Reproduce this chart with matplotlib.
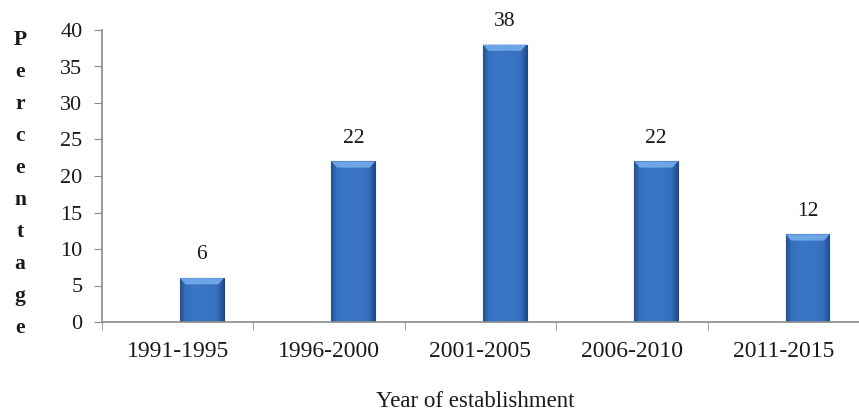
import matplotlib.pyplot as plt
import numpy as np
from matplotlib.colors import LinearSegmentedColormap
from matplotlib.patches import Polygon

# Share of firms by year of establishment
periods = ['1991-1995', '1996-2000', '2001-2005', '2006-2010', '2011-2015']
percent = [6, 22, 38, 22, 12]

plt.rcParams['font.family'] = ['Liberation Serif', 'DejaVu Serif']

fig = plt.figure(figsize=(8.59, 4.15), dpi=100)
ax = fig.add_axes([102 / 859, 1 - 322 / 415, 1 - 102 / 859, (322 - 30) / 415])

x = np.arange(len(periods))
offset = 0.16
width = 0.29
bars = ax.bar(x + offset, percent, width, color='#3a72c2',
              edgecolor='#22497f', linewidth=0.8, zorder=2)

# horizontal shading across each bar, darker toward the edges
shade = LinearSegmentedColormap.from_list('bar', [
    (0.0, '#24508f'), (0.12, '#3670c0'), (0.4, '#3c77c6'),
    (0.85, '#3670bf'), (1.0, '#224c8a')])
grad = np.linspace(0, 1, 64).reshape(1, -1)
for b in bars:
    x0, w, h = b.get_x(), b.get_width(), b.get_height()
    im = ax.imshow(grad, cmap=shade, aspect='auto', zorder=2.5,
                   extent=[x0, x0 + w, 0, h], interpolation='bicubic')
    im.set_clip_path(b)
    # lighter bevel on the top of the bar
    cap = 0.85
    inset = w * 0.13
    top = Polygon([[x0, h], [x0 + w, h], [x0 + w - inset, h - cap],
                   [x0 + inset, h - cap]], closed=True,
                  facecolor='#6ea5e6', edgecolor='none', zorder=3)
    ax.add_patch(top)
    ax.text(x0 + w / 2, h + 1.9, f'{h:g}', ha='center', va='bottom',
            fontsize=15.5, color='#1a1a1a', clip_on=False)

ax.set_xlim(-0.5, len(periods) - 0.5)
ax.set_ylim(0, 40)
ax.set_yticks(range(0, 41, 5))
ax.set_xticks(x)
ax.set_xticklabels(periods, fontsize=17, color='#1a1a1a')
ax.set_xticks(np.arange(len(periods) + 1) - 0.5, minor=True)
ax.tick_params(axis='x', which='major', length=0, pad=14)
ax.tick_params(axis='x', which='minor', length=6, color='#8a8a8a', direction='out')
ax.tick_params(axis='y', length=6, color='#8a8a8a', labelsize=16,
               labelcolor='#1a1a1a', pad=8)

for side in ['top', 'right']:
    ax.spines[side].set_visible(False)
for side in ['left', 'bottom']:
    ax.spines[side].set_color('#8a8a8a')
    ax.spines[side].set_linewidth(1.2)

# vertical axis title written one letter per line
for i, ch in enumerate('Percentage'):
    fig.text(20 / 859, 1 - (40 + i * 32) / 415, ch, ha='center', va='center',
             fontsize=15.5, fontweight='bold', color='#1a1a1a')

fig.text(475 / 859, 1 - 401 / 415, 'Year of establishment', ha='center',
         va='center', fontsize=16.5, color='#1a1a1a')

fig.savefig('out.png', dpi=100)
